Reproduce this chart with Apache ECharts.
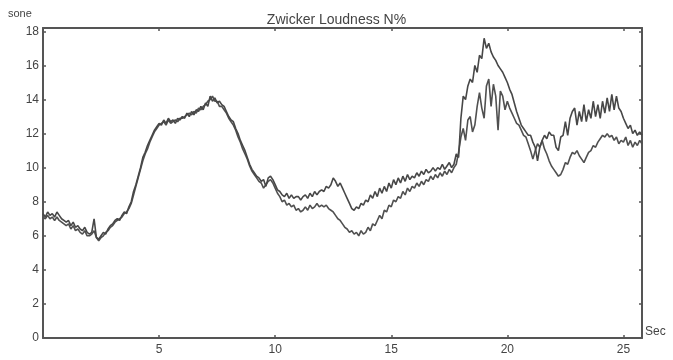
<!DOCTYPE html>
<html>
<head>
<meta charset="utf-8">
<script src="https://cdn.jsdelivr.net/npm/echarts@6/dist/echarts.min.js"></script>
<style>html,body{margin:0;padding:0;background:#fff}#c{width:673px;height:360px}</style>
</head>
<body>
<div id="c"></div>
<script>
// Sample spacing (seconds)
var t0 = 0, dt = 0.1;
var xTickLabels = ['5', '10', '15', '20', '25'];
var yTickLabels = ['0', '2', '4', '6', '8', '10', '12', '14', '16', '18'];

// Curve A (upper at the end)
var loudnessA = [
 7.3, 7.1, 7.4, 7.2, 7.3, 7.1, 7.4, 7.2, 7.0, 6.9,
 6.8, 6.9, 6.6, 6.8, 6.5, 6.6, 6.4, 6.3, 6.5, 6.2,
 6.1, 6.2, 7.0, 5.9, 5.8, 6.0, 6.2, 6.1, 6.4, 6.6,
 6.7, 6.9, 7.0, 6.9, 7.2, 7.4, 7.3, 7.7, 8.0, 8.6,
 9.0, 9.5, 10.0, 10.6, 10.9, 11.3, 11.6, 11.9, 12.2, 12.4,
 12.6, 12.5, 12.8, 12.6, 12.9, 12.7, 12.8, 12.6, 12.9, 12.8,
 13.0, 12.9, 13.2, 13.0, 13.3, 13.1, 13.4, 13.3, 13.6, 13.4,
 13.8, 13.6, 14.2, 13.9, 14.1, 13.8, 13.9, 13.7, 13.6, 13.3,
 13.0, 12.8, 12.7, 12.3, 12.0, 11.6, 11.3, 11.0, 10.6, 10.2,
 9.9, 9.7, 9.5, 9.4, 9.2, 9.3, 8.9, 9.4, 9.5, 9.3,
 9.0, 8.7, 8.6, 8.4, 8.3, 8.5, 8.2, 8.4, 8.2, 8.3,
 8.3, 8.1, 8.3, 8.4, 8.2, 8.5, 8.3, 8.6, 8.4, 8.6,
 8.7, 8.6, 8.9, 8.8, 9.0, 9.4, 9.2, 8.9, 9.1, 8.8,
 8.5, 8.2, 7.9, 7.6, 7.5, 7.7, 7.6, 7.9, 7.8, 8.1,
 8.0, 8.4, 8.2, 8.6, 8.3, 8.8, 8.5, 8.9, 8.6, 9.1,
 8.8, 9.3, 9.0, 9.4, 9.1, 9.5, 9.2, 9.6, 9.3, 9.5,
 9.4, 9.7, 9.5, 9.8, 9.6, 9.9, 9.7, 9.8, 10.0, 9.8,
 10.0, 9.9, 10.2, 9.9, 10.1, 10.3, 10.0, 10.2, 10.8, 10.6,
 12.9, 14.2, 14.0, 14.8, 15.2, 15.0, 16.0, 15.6, 16.6, 16.4,
 17.6, 17.0, 17.3, 16.8, 16.5, 16.3, 16.0, 15.8, 15.6, 15.3,
 15.0, 14.6, 14.3, 13.8, 13.3, 12.9, 12.5, 12.3, 12.1, 11.9,
 11.9, 11.5, 11.2, 10.4, 11.2, 11.6, 11.9, 11.7, 12.1, 11.9,
 11.9, 11.2, 11.0, 11.8, 11.9, 12.7, 11.9, 12.9, 13.3, 13.5,
 12.5, 13.3, 12.7, 13.7, 12.7, 13.4, 12.9, 13.9, 13.0, 13.7,
 12.9, 13.9, 13.2, 14.1, 13.3, 14.3, 13.4, 14.2, 13.5, 13.3,
 12.9, 12.6, 12.3, 12.5, 12.0, 12.2, 11.9, 12.1, 11.9
];

// Curve B (lower at the end)
var loudnessB = [
 7.1, 7.0, 7.2, 7.0, 7.1, 6.9, 7.1, 6.9, 6.8, 6.7,
 6.6, 6.7, 6.4, 6.6, 6.3, 6.4, 6.2, 6.1, 6.3, 6.0,
 6.0, 6.1, 6.3, 5.9, 5.7, 5.9, 6.0, 6.2, 6.3, 6.5,
 6.6, 6.8, 6.9, 7.0, 7.1, 7.3, 7.4, 7.6, 7.9, 8.4,
 8.9, 9.4, 9.9, 10.4, 10.8, 11.1, 11.5, 11.8, 12.1, 12.3,
 12.5, 12.6, 12.7, 12.5, 12.8, 12.6, 12.7, 12.8, 12.7, 12.9,
 12.9, 13.0, 13.1, 13.2, 13.1, 13.3, 13.2, 13.5, 13.4, 13.6,
 13.7, 13.9, 14.0, 14.2, 13.9, 13.9, 13.6, 13.6, 13.4, 13.2,
 12.9, 12.7, 12.5, 12.2, 11.8, 11.5, 11.1, 10.8, 10.5, 10.1,
 9.8, 9.6, 9.4, 9.2, 9.1, 8.8, 9.0, 9.2, 9.3, 9.1,
 8.8, 8.5, 8.3, 8.0, 8.1, 7.8, 7.9, 7.7, 7.8, 7.5,
 7.6, 7.4, 7.5, 7.7, 7.5, 7.8, 7.6, 7.7, 7.9, 7.7,
 7.8, 7.7, 7.8, 7.6, 7.5, 7.4, 7.2, 7.0, 6.9, 6.7,
 6.5, 6.4, 6.2, 6.3, 6.1, 6.2, 6.0, 6.3, 6.1, 6.2,
 6.5, 6.3, 6.7, 6.6, 6.9, 7.2, 7.0, 7.5, 7.4, 7.8,
 7.7, 8.1, 8.0, 8.3, 8.2, 8.6, 8.4, 8.8, 8.6, 8.9,
 8.8, 9.1, 8.9, 9.2, 9.0, 9.3, 9.2, 9.5, 9.3, 9.6,
 9.4, 9.7, 9.5, 9.8, 9.6, 9.9, 9.7, 10.0, 10.2, 10.9,
 11.8, 12.3, 11.6, 12.8, 13.0, 12.1, 12.5, 13.6, 14.4, 13.5,
 12.9, 14.8, 15.2, 13.6, 14.9, 14.2, 12.2, 14.5, 14.2, 13.4,
 13.9, 13.5, 13.2, 12.9, 12.6, 12.5, 12.2, 11.9, 11.8, 11.4,
 11.0, 10.5, 11.0, 11.4, 11.2, 11.6, 11.1, 10.8, 10.4, 10.1,
 9.9, 9.7, 9.5, 9.6, 9.9, 10.3, 10.2, 10.6, 10.9, 10.8,
 11.0, 10.7, 10.5, 10.3, 10.6, 10.9, 11.0, 11.3, 11.2, 11.5,
 11.7, 11.9, 11.8, 12.0, 11.8, 11.9, 11.6, 11.8, 11.4, 11.6,
 11.5, 11.8, 11.3, 11.6, 11.2, 11.5, 11.3, 11.6, 11.4
];

function pairs(arr) {
  var out = [];
  for (var i = 0; i < arr.length; i++) out.push([+(t0 + i * dt).toFixed(2), arr[i]]);
  return out;
}

var FONT = 'Liberation Sans';
var AXC = '#555';
var chart = echarts.init(document.getElementById('c'), null, {renderer: 'canvas'});

var axisCommon = {
  axisLine: {show: true, onZero: false, lineStyle: {color: AXC, width: 2}},
  axisTick: {show: true, inside: true, length: 3, lineStyle: {color: AXC, width: 1.5}},
  splitLine: {show: false}
};

chart.setOption({
  animation: false,
  backgroundColor: '#fff',
  title: {
    text: 'Zwicker Loudness N%',
    left: 'center', top: 8,
    textStyle: {fontFamily: FONT, fontSize: 14, fontWeight: 'normal', color: '#444'}
  },
  grid: {left: 43, right: 31, top: 28, bottom: 22, containLabel: false},
  xAxis: [
    Object.assign({
      type: 'value', min: 0, max: 25.8, interval: 5, position: 'bottom',
      axisLabel: {
        show: true, showMinLabel: false, showMaxLabel: false, margin: 6,
        fontFamily: FONT, fontSize: 12, color: '#444',
        formatter: function (v) { var s = String(v); return xTickLabels.indexOf(s) >= 0 ? s : ''; }
      }
    }, axisCommon),
    Object.assign({
      type: 'value', min: 0, max: 25.8, interval: 5, position: 'top',
      axisLabel: {show: false}
    }, axisCommon)
  ],
  yAxis: [
    Object.assign({
      type: 'value', min: 0, max: 18.2, interval: 2, position: 'left',
      axisLabel: {
        show: true, showMaxLabel: false, margin: 4,
        fontFamily: FONT, fontSize: 12, color: '#444',
        formatter: function (v) { var s = String(v); return yTickLabels.indexOf(s) >= 0 ? s : ''; }
      }
    }, axisCommon),
    Object.assign({
      type: 'value', min: 0, max: 18.2, interval: 2, position: 'right',
      axisLabel: {show: false}
    }, axisCommon)
  ],
  graphic: [
    {type: 'text', left: 8, top: 8, style: {text: 'sone', fontFamily: FONT, fontSize: 11, fill: '#444'}},
    {type: 'text', left: 645, top: 326, style: {text: 'Sec', fontFamily: FONT, fontSize: 12, fill: '#444'}}
  ],
  series: [
    {type: 'line', name: 'A', data: pairs(loudnessA), showSymbol: false, symbol: 'none',
     lineStyle: {color: '#474747', width: 1.6}, z: 3},
    {type: 'line', name: 'B', data: pairs(loudnessB), showSymbol: false, symbol: 'none',
     lineStyle: {color: '#505050', width: 1.6}, z: 2}
  ]
});
</script>
</body>
</html>
